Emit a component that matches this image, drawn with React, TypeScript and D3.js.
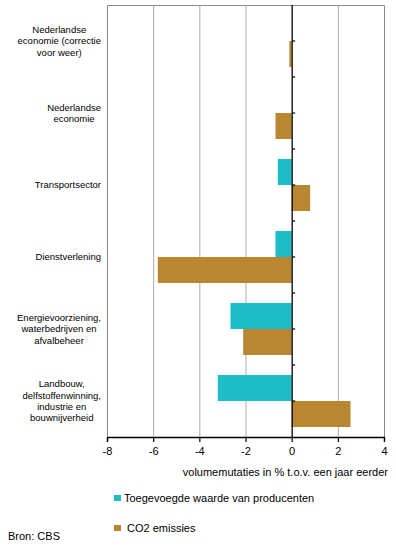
import React, { useEffect, useRef } from 'react';
import * as d3 from 'd3';

// categories, top to bottom (line breaks as in the chart)
const categories: string[][] = [
  ['Nederlandse', 'economie (correctie', 'voor weer)'],
  ['Nederlandse', 'economie'],
  ['Transportsector'],
  ['Dienstverlening'],
  ['Energievoorziening,', 'waterbedrijven en', 'afvalbeheer'],
  ['Landbouw,', 'delfstoffenwinning,', 'industrie en', 'bouwnijverheid'],
];
const toegevoegdeWaarde = [0, 0, -0.6, -0.7, -2.65, -3.2];
const co2Emissies = [-0.1, -0.7, 0.8, -5.8, -2.1, 2.55];
const xTicks = [-8, -6, -4, -2, 0, 2, 4];
const seriesNames = ['Toegevoegde waarde van producenten', 'CO2 emissies'];
const colors = ['#1DBCC7', '#B98631'];

const W = 396;
const H = 547;
const FONT = 'Arial, "Liberation Sans", sans-serif';

export default function App() {
  const svgRef = useRef<SVGSVGElement>(null);

  useEffect(() => {
    const svg = d3.select(svgRef.current);
    svg.selectAll('*').remove();

    const left = 107, right = 384, top = 5, bottom = 437;

    const x = d3.scaleLinear().domain([-8, 4]).range([left, right]);
    const y = d3.scaleBand<number>()
      .domain(d3.range(categories.length))
      .range([top, bottom]);
    const inner = d3.scaleBand<number>()
      .domain([0, 1])
      .range([0, y.bandwidth()])
      .paddingOuter(0.385)
      .paddingInner(0);

    // grid lines
    svg.append('g')
      .selectAll('line')
      .data(xTicks.filter(t => t !== 0 && t !== -8 && t !== 4))
      .enter()
      .append('line')
      .attr('x1', d => x(d) + 0.5)
      .attr('x2', d => x(d) + 0.5)
      .attr('y1', top)
      .attr('y2', bottom)
      .attr('stroke', '#ababab')
      .attr('stroke-width', 1);

    // frame
    svg.append('path')
      .attr('d', `M${left + 0.5},${bottom} V${top + 0.5} H${right + 0.5} V${bottom}`)
      .attr('fill', 'none')
      .attr('stroke', '#888')
      .attr('stroke-width', 1);

    // bars
    const seriesData = [toegevoegdeWaarde, co2Emissies];
    seriesData.forEach((vals, s) => {
      svg.append('g')
        .selectAll('rect')
        .data(vals)
        .enter()
        .append('rect')
        .attr('x', d => x(Math.min(0, d)))
        .attr('width', d => Math.abs(x(d) - x(0)))
        .attr('y', (d, i) => (y(i) as number) + (inner(s) as number))
        .attr('height', inner.bandwidth())
        .attr('fill', colors[s]);
    });

    // zero axis with ticks every half band
    const zx = x(0) + 0.5;
    svg.append('line')
      .attr('x1', zx).attr('x2', zx)
      .attr('y1', top).attr('y2', bottom)
      .attr('stroke', '#000').attr('stroke-width', 1.3);
    const halfTicks = d3.range(1, categories.length * 2).map(k => top + (k * y.bandwidth()) / 2);
    svg.append('g')
      .selectAll('line')
      .data(halfTicks)
      .enter()
      .append('line')
      .attr('x1', zx).attr('x2', zx + 3)
      .attr('y1', d => d).attr('y2', d => d)
      .attr('stroke', '#000').attr('stroke-width', 1.2);

    // bottom axis
    const axis = svg.append('g')
      .attr('transform', `translate(0,${bottom})`)
      .call(d3.axisBottom(x).tickValues(xTicks).tickSize(5).tickPadding(5).tickFormat(d3.format('d')));
    axis.select('.domain').attr('stroke', '#000').attr('stroke-width', 1.3);
    axis.selectAll('.tick line').attr('stroke', '#000').attr('stroke-width', 1.2);
    axis.selectAll('text')
      .attr('font-family', FONT)
      .attr('font-size', 11)
      .attr('fill', '#000')
      .text(d => String(d).replace('-', '-'));

    // axis title
    svg.append('text')
      .attr('x', right + 4)
      .attr('y', 476)
      .attr('text-anchor', 'end')
      .attr('font-family', FONT)
      .attr('font-size', 11)
      .text('volumemutaties in % t.o.v. een jaar eerder');

    // category labels, centred block with right edge at 101
    const labelRight = 101;
    const lineH = 11.4;
    categories.forEach((lines, i) => {
      const g = svg.append('g');
      const cy = (y(i) as number) + y.bandwidth() / 2;
      const texts = lines.map((ln, j) =>
        g.append('text')
          .attr('y', cy + (j - (lines.length - 1) / 2) * lineH)
          .attr('dy', '0.35em')
          .attr('text-anchor', 'middle')
          .attr('font-family', FONT)
          .attr('font-size', 9.5)
          .text(ln)
      );
      const maxW = d3.max(texts, t => (t.node() as SVGTextElement).getComputedTextLength()) || 0;
      texts.forEach(t => t.attr('x', labelRight - maxW / 2));
    });

    // legend
    const legendY = [498, 528];
    seriesNames.forEach((name, s) => {
      svg.append('rect')
        .attr('x', 114)
        .attr('y', legendY[s] - 3)
        .attr('width', 7)
        .attr('height', 6)
        .attr('fill', colors[s]);
      svg.append('text')
        .attr('x', s === 0 ? 124 : 127)
        .attr('y', legendY[s])
        .attr('dy', '0.35em')
        .attr('font-family', FONT)
        .attr('font-size', 11)
        .text(name);
    });

    svg.append('text')
      .attr('x', 8)
      .attr('y', 536)
      .attr('dy', '0.35em')
      .attr('font-family', FONT)
      .attr('font-size', 11)
      .text('Bron: CBS');
  }, []);

  return (
    <svg
      ref={svgRef}
      width={W}
      height={H}
      style={{ position: 'absolute', left: 0, top: 0, background: '#fff' }}
    />
  );
}
